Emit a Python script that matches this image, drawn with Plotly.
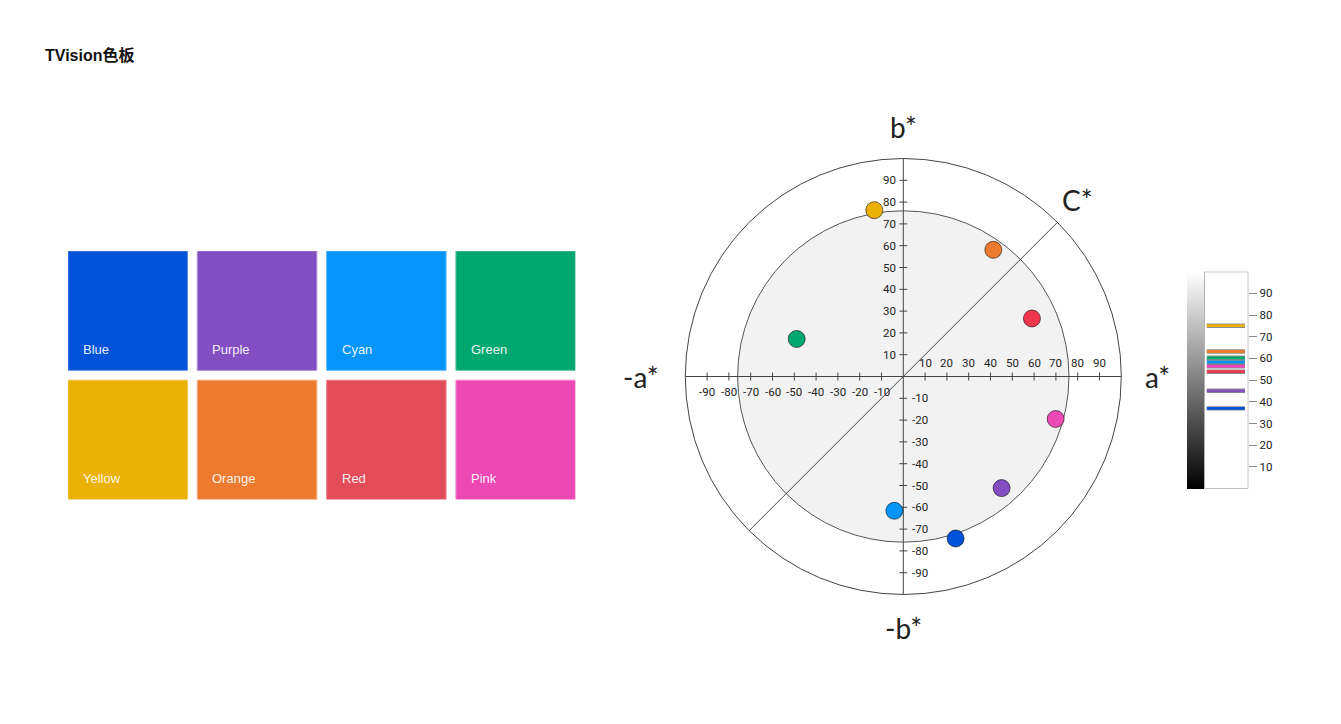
import plotly.graph_objects as go
import math

W, H = 1341, 724

# ---------------- data ----------------
names = ["Blue", "Purple", "Cyan", "Green", "Yellow", "Orange", "Red", "Pink"]
colors = ["#0052D9", "#834EC2", "#0594FA", "#00A870",
          "#EBB105", "#ED7B2F", "#E34D59", "#ED49B4"]
border_colors = ["#5a8be6", "#ab8ad6", "#5bb8fb", "#5cc6a0",
                 "#f2ca5a", "#f3a673", "#ec8890", "#f38bcf"]
a_star = [24.0, 45.1, -4.1, -48.9, -13.3, 41.3, 59.0, 69.9]
b_star = [-74.3, -51.2, -61.6, 17.2, 76.3, 58.1, 26.6, -19.5]
L_star = [37.0, 45.1, 58.3, 60.3, 75.1, 63.2, 53.9, 56.4]
dot_colors = ["#0052D9", "#834EC2", "#0594FA", "#00A870",
              "#EBB105", "#ED7B2F", "#F0364F", "#ED49B4"]

ab_ticks_pos = [10, 20, 30, 40, 50, 60, 70, 80, 90]
ab_ticks_neg = [-90, -80, -70, -60, -50, -40, -30, -20, -10]
L_ticks = [10, 20, 30, 40, 50, 60, 70, 80, 90]
outer_r = 100
inner_r = 76

# ---------------- layout helpers ----------------
def px(x):
    return x / W

def py(y):
    return 1 - y / H

cx, cy, scale = 903.3, 376.5, 2.18   # centre of a*b* plane, px per unit
rng = 125
ab_xdom = [px(cx - rng * scale), px(cx + rng * scale)]
ab_ydom = [py(cy + rng * scale), py(cy - rng * scale)]

L_bot, L_top = 488.6, 271.7
box_l, box_r = 1204.3, 1248.3

sw_x0, sw_x1 = 68.0, 575.4
sw_y0, sw_y1 = 251.0, 499.5
cell = 0.924

fig = go.Figure()
shapes = []
annotations = []

# ---------------- swatches ----------------
for i, (n, c, bc) in enumerate(zip(names, colors, border_colors)):
    col, row = i % 4, i // 4
    shapes.append(dict(type="rect", xref="x3", yref="y3",
                       x0=col, x1=col + cell, y0=row, y1=row + cell,
                       fillcolor=c, line=dict(color=bc, width=1), layer="below"))
    annotations.append(dict(xref="x3", yref="y3", x=col + 0.1, y=row + 0.76,
                            text=n, showarrow=False, xanchor="left", yanchor="middle",
                            font=dict(family="Liberation Sans, Arial", size=13,
                                      color="rgba(255,255,255,0.92)")))

# ---------------- a*b* plane ----------------
shapes.append(dict(type="circle", xref="x", yref="y",
                   x0=-inner_r, x1=inner_r, y0=-inner_r, y1=inner_r,
                   fillcolor="#f2f2f2", line=dict(color="#555", width=1), layer="below"))
shapes.append(dict(type="circle", xref="x", yref="y",
                   x0=-outer_r, x1=outer_r, y0=-outer_r, y1=outer_r,
                   line=dict(color="#444", width=1), layer="below"))
shapes.append(dict(type="line", xref="x", yref="y", x0=-outer_r, x1=outer_r, y0=0, y1=0,
                   line=dict(color="#444", width=1), layer="below"))
shapes.append(dict(type="line", xref="x", yref="y", x0=0, x1=0, y0=-outer_r, y1=outer_r,
                   line=dict(color="#444", width=1), layer="below"))
d = outer_r * math.cos(math.pi / 4)
shapes.append(dict(type="line", xref="x", yref="y", x0=-d, x1=d, y0=-d, y1=d,
                   line=dict(color="#444", width=1), layer="below"))

# ticks crossing axes
tl = 4 / scale
all_ticks = ab_ticks_neg + ab_ticks_pos
tx, ty = [], []
for v in all_ticks:
    tx += [v, v, None]
    ty += [-tl, tl, None]
    tx += [-tl, tl, None]
    ty += [v, v, None]
fig.add_trace(go.Scatter(x=tx, y=ty, mode="lines", xaxis="x", yaxis="y",
                         line=dict(color="#444", width=1), hoverinfo="skip", showlegend=False))

tick_font = dict(family="Roboto, DejaVu Sans", size=11.5, color="#222")
for v in ab_ticks_pos:
    annotations.append(dict(xref="x", yref="y", x=v, y=0, text=str(v), showarrow=False,
                            xanchor="center", yanchor="middle", yshift=14, font=tick_font))
    annotations.append(dict(xref="x", yref="y", x=0, y=v, text=str(v), showarrow=False,
                            xanchor="right", yanchor="middle", xshift=-5, font=tick_font))
for v in ab_ticks_neg:
    annotations.append(dict(xref="x", yref="y", x=v, y=0, text=str(v), showarrow=False,
                            xanchor="center", yanchor="middle", yshift=-15, font=tick_font))
    annotations.append(dict(xref="x", yref="y", x=0, y=v, text=str(v), showarrow=False,
                            xanchor="left", yanchor="middle", xshift=7, font=tick_font))

big_font = dict(family="Lato, Open Sans", size=28, color="#222")
for txt, x, y in [("b*", 0, 114.4), ("-b*", 0, -115.4), ("a*", 116.4, 0),
                  ("-a*", -120.5, 0), ("C*", 80.1, 81)]:
    annotations.append(dict(xref="x", yref="y", x=x, y=y, text=txt, showarrow=False,
                            xanchor="center", yanchor="middle", font=big_font))

fig.add_trace(go.Scatter(x=a_star, y=b_star, mode="markers", xaxis="x", yaxis="y",
                         text=names, hoverinfo="text", showlegend=False,
                         marker=dict(size=17, color=dot_colors,
                                     line=dict(color="rgba(0,0,0,0.55)", width=1))))

# ---------------- L* bar ----------------
shapes.append(dict(type="rect", xref="x2", yref="y2", x0=0, x1=1, y0=0, y1=100,
                   line=dict(color="#777", width=1), layer="below"))
for n, c, L in zip(names, dot_colors, L_star):
    fig.add_trace(go.Scatter(x=[0.055, 0.925], y=[L, L], mode="lines", xaxis="x2", yaxis="y2",
                             line=dict(color="rgba(0,0,0,0.45)", width=4.4),
                             hoverinfo="skip", showlegend=False))
    fig.add_trace(go.Scatter(x=[0.06, 0.92], y=[L, L], mode="lines", xaxis="x2", yaxis="y2",
                             line=dict(color=c, width=2.8), name=n,
                             hoverinfo="name+y", showlegend=False))

# gradient (colorbar) driven by the L* values
fig.add_trace(go.Scatter(x=[0.5] * len(L_star), y=L_star, mode="markers",
                         xaxis="x2", yaxis="y2", hoverinfo="skip", showlegend=False,
                         marker=dict(size=0.1, opacity=0, color=L_star, cmin=0, cmax=100,
                                     colorscale=[[0, "#000000"], [1, "#ffffff"]],
                                     showscale=True,
                                     colorbar=dict(x=px(1187.3), xanchor="left",
                                                   y=py((L_bot + L_top) / 2), yanchor="middle",
                                                   thickness=17, thicknessmode="pixels",
                                                   len=L_bot - L_top, lenmode="pixels",
                                                   xpad=0, ypad=0, outlinewidth=0,
                                                   borderwidth=0, ticks="",
                                                   showticklabels=False))))

annotations.append(dict(xref="x2", yref="y2", x=0.4, y=114.6, text="L*", showarrow=False,
                        xanchor="center", yanchor="middle", font=big_font))

# ---------------- title ----------------
annotations.append(dict(xref="paper", yref="paper", x=px(43), y=py(55), text="<b>TVision色板</b>",
                        showarrow=False, xanchor="left", yanchor="middle",
                        font=dict(family="Liberation Sans, Noto Sans CJK SC", size=16, color="#111")))

hidden = dict(showgrid=False, zeroline=False, showticklabels=False, ticks="", showline=False)

fig.update_layout(
    width=W, height=H, margin=dict(l=0, r=0, t=0, b=0),
    paper_bgcolor="white", plot_bgcolor="rgba(0,0,0,0)",
    showlegend=False,
    shapes=shapes, annotations=annotations,
    xaxis=dict(domain=ab_xdom, range=[-rng, rng], **hidden),
    yaxis=dict(domain=ab_ydom, range=[-rng, rng], **hidden),
    xaxis2=dict(domain=[px(box_l), px(box_r)], range=[0, 1], anchor="y2", **hidden),
    yaxis2=dict(domain=[py(L_bot), py(L_top)], range=[0, 100], anchor="x2", side="right",
                showgrid=False, zeroline=False, showline=False,
                tickvals=L_ticks, ticks="outside", ticklen=8, tickcolor="#888",
                tickfont=dict(family="Roboto, DejaVu Sans", size=11.5, color="#222")),
    xaxis3=dict(domain=[px(sw_x0), px(sw_x1)], range=[0, 3 + cell], anchor="y3", **hidden),
    yaxis3=dict(domain=[py(sw_y1), py(sw_y0)], range=[1 + cell, 0], anchor="x3", **hidden),
)

fig.write_html("out.html", config={"displayModeBar": False},
               post_script="document.body.style.margin='0';document.body.style.overflow='hidden';")
